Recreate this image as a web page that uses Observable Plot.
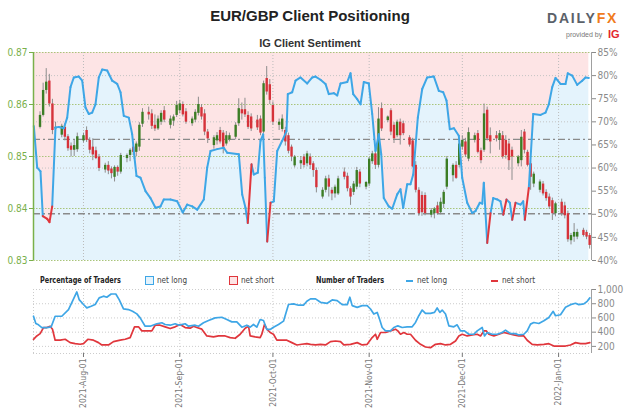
<!DOCTYPE html>
<html><head><meta charset="utf-8">
<script src="https://cdn.jsdelivr.net/npm/d3@7"></script>
<script src="https://cdn.jsdelivr.net/npm/@observablehq/plot@0.6"></script>
<style>
body{margin:0;background:#fff;}
#wrap{position:relative;width:624px;height:412px;overflow:hidden;font-family:"Liberation Sans",Arial,sans-serif;}
.abs{position:absolute;white-space:nowrap;}
#title{left:0;width:620px;top:7px;text-align:center;font-weight:bold;font-size:15px;color:#222;}
#subtitle{left:0;width:620px;top:37px;text-align:center;font-weight:bold;font-size:11px;color:#333;}
.narrow{font-family:"Liberation Sans Narrow","DejaVu Sans Condensed","Roboto Condensed",Roboto,sans-serif;}
.leg{top:275px;font-size:9px;color:#444;transform-origin:left center;transform:scaleX(0.9);}
.legb{font-weight:bold;color:#222;transform:scaleX(0.8);}
.box{position:absolute;top:276px;width:7px;height:7px;border:1.5px solid;}
.dash{position:absolute;top:280px;width:7px;height:2px;}
</style></head><body><div id="wrap">
<div class="abs" id="title">EUR/GBP Client Positioning</div>
<div class="abs" style="left:547px;top:10px;font-weight:bold;font-size:14px;letter-spacing:1.8px;color:#5b6169;">DAILY<span style="color:#f07b1c">FX</span></div>
<div class="abs" style="left:566px;top:31px;font-size:7px;color:#777;">provided by</div>
<div class="abs" style="left:608px;top:28px;font-size:11px;font-weight:bold;color:#e3262d;">IG</div>
<div class="abs" id="subtitle">IG Client Sentiment</div>
<div id="main" class="abs" style="left:0;top:0;"></div>
<div id="bottom" class="abs" style="left:0;top:280px;"></div>
<div class="abs leg legb narrow" style="left:40px;">Percentage of Traders</div>
<div class="box" style="left:145px;border-color:#3ea6e6;background:#e4f3fc;"></div>
<div class="abs leg narrow" style="left:157px;">net long</div>
<div class="box" style="left:229px;border-color:#e0363c;background:#fde4e5;"></div>
<div class="abs leg narrow" style="left:241px;">net short</div>
<div class="abs leg legb narrow" style="left:316px;">Number of Traders</div>
<div class="dash" style="left:406px;background:#3ea6e6;"></div>
<div class="abs leg narrow" style="left:417px;">net long</div>
<div class="dash" style="left:491px;background:#e0363c;"></div>
<div class="abs leg narrow" style="left:502px;">net short</div>
</div>
<script>
// ---------- DATA ----------
// Daily EUR/GBP candles, Sun-Fri, 2021-07-18 .. 2022-01-11
const candleOpen = [
.8556,.8579,.8627,.8645,.8601,.8553, .8541,.8556,.8538,.8520,.8512,.8513,
.8530,.8550,.8531,.8518,.8511,.8499, .8474,.8483,.8476,.8460,.8479,.8470,
.8496,.8502,.8518,.8508,.8518,.8562, .8585,.8582,.8560,.8553,.8566,.8588,
.8560,.8568,.8579,.8588,.8600,.8586, .8563,.8570,.8583,.8594,.8582,.8547,
.8521,.8530,.8550,.8545,.8524,.8532, .8537,.8563,.8590,.8590,.8579,.8576,
.8570,.8572,.8547,.8650,.8638,.8598, .8560,.8552,.8550,.8540,.8518,.8482,
.8486,.8499,.8486,.8499,.8486,.8473, .8422,.8435,.8457,.8435,.8428,.8428,
.8470,.8462,.8438,.8431,.8441,.8470, .8441,.8447,.8490,.8505,.8483,.8592,
.8569,.8588,.8560,.8540,.8566,.8563, .8536,.8530,.8483,.8435,.8425,.8425,
.8387,.8390,.8405,.8392,.8408,.8441, .8463,.8483,.8483,.8518,.8528,.8495,
.8531,.8544,.8511,.8512,.8589,.8540, .8540,.8531,.8540,.8531,.8524,.8512,
.8486,.8492,.8547,.8508,.8486,.8447, .8435,.8447,.8431,.8422,.8415,.8390,
.8412,.8405,.8390,.8338,.8345,.8345, .8358,.8354,.8348];
const candleHigh = [
.8586,.8641,.8669,.8658,.8610,.8566, .8562,.8563,.8542,.8526,.8532,.8545,
.8545,.8557,.8536,.8534,.8518,.8504, .8487,.8490,.8480,.8482,.8482,.8506,
.8505,.8515,.8522,.8528,.8565,.8592, .8595,.8590,.8580,.8578,.8588,.8596,
.8578,.8580,.8606,.8608,.8605,.8592, .8576,.8590,.8614,.8600,.8590,.8552,
.8540,.8546,.8556,.8550,.8548,.8545, .8565,.8611,.8603,.8612,.8586,.8582,
.8579,.8578,.8645,.8673,.8648,.8605, .8572,.8580,.8556,.8545,.8522,.8502,
.8500,.8504,.8510,.8505,.8490,.8478, .8440,.8462,.8464,.8440,.8445,.8462,
.8478,.8468,.8442,.8452,.8479,.8475, .8452,.8498,.8510,.8510,.8594,.8603,
.8578,.8592,.8565,.8570,.8572,.8568, .8540,.8535,.8490,.8440,.8432,.8430,
.8400,.8402,.8412,.8420,.8435,.8500, .8486,.8490,.8530,.8540,.8535,.8555,
.8545,.8550,.8516,.8601,.8595,.8555, .8548,.8550,.8548,.8540,.8530,.8518,
.8502,.8550,.8552,.8512,.8490,.8470, .8455,.8452,.8436,.8428,.8420,.8412,
.8418,.8412,.8395,.8352,.8371,.8360, .8362,.8358,.8352];
const candleLow = [
.8553,.8576,.8620,.8595,.8542,.8548, .8536,.8530,.8510,.8499,.8500,.8508,
.8526,.8527,.8505,.8492,.8494,.8471, .8468,.8465,.8457,.8451,.8462,.8466,
.8488,.8490,.8502,.8500,.8510,.8556, .8570,.8552,.8548,.8550,.8560,.8565,
.8553,.8558,.8575,.8582,.8576,.8562, .8558,.8565,.8578,.8570,.8540,.8525,
.8514,.8522,.8524,.8505,.8520,.8528, .8532,.8558,.8570,.8575,.8552,.8548,
.8550,.8540,.8544,.8618,.8600,.8560, .8550,.8547,.8520,.8505,.8490,.8478,
.8475,.8478,.8480,.8475,.8460,.8430, .8418,.8430,.8422,.8415,.8420,.8425,
.8455,.8432,.8406,.8425,.8436,.8440, .8436,.8442,.8485,.8475,.8478,.8548,
.8565,.8540,.8525,.8536,.8522,.8540, .8518,.8478,.8430,.8385,.8385,.8386,
.8382,.8380,.8387,.8388,.8400,.8436, .8451,.8456,.8478,.8512,.8498,.8490,
.8526,.8505,.8486,.8508,.8530,.8505, .8528,.8512,.8495,.8495,.8473,.8454,
.8480,.8480,.8505,.8480,.8435,.8440, .8430,.8424,.8414,.8398,.8377,.8384,
.8385,.8380,.8335,.8330,.8335,.8340, .8345,.8340,.8322];
const candleClose = [
.8579,.8627,.8643,.8601,.8550,.8556, .8558,.8537,.8515,.8512,.8521,.8538,
.8540,.8531,.8512,.8503,.8496,.8477, .8483,.8472,.8467,.8479,.8470,.8502,
.8502,.8512,.8508,.8524,.8560,.8585, .8580,.8558,.8553,.8572,.8583,.8570,
.8572,.8576,.8598,.8601,.8580,.8566, .8572,.8585,.8600,.8576,.8547,.8534,
.8536,.8540,.8528,.8518,.8540,.8540, .8560,.8592,.8582,.8580,.8556,.8553,
.8555,.8545,.8640,.8624,.8608,.8566, .8566,.8572,.8528,.8510,.8499,.8499,
.8492,.8483,.8505,.8483,.8473,.8440, .8435,.8457,.8441,.8428,.8441,.8457,
.8460,.8438,.8422,.8447,.8473,.8447, .8450,.8495,.8505,.8483,.8572,.8553,
.8576,.8547,.8534,.8566,.8540,.8544, .8522,.8480,.8435,.8390,.8392,.8390,
.8396,.8399,.8390,.8412,.8431,.8495, .8483,.8458,.8524,.8531,.8503,.8546,
.8540,.8508,.8492,.8582,.8534,.8528, .8534,.8544,.8499,.8502,.8492,.8499,
.8499,.8537,.8512,.8483,.8460,.8466, .8451,.8428,.8419,.8403,.8390,.8409,
.8390,.8386,.8340,.8348,.8354,.8354, .8348,.8345,.8329];

// IG client sentiment: [days since 2021-08-01, % of traders net long]
const sentiment = [
[-16.0,69.1],[-14.91,60.1],[-13.85,59.3],[-13.11,49.6],[-11.69,49.0],[-10.95,48.3],[-10.08,51.7],
[-9.02,68.8],[-7.95,68.9],[-6.34,68.6],[-5.25,70.9],[-4.19,77.5],[-3.12,79.6],[-1.51,79.8],[-0.42,78.9],
[0.64,73.1],[1.71,71.7],[2.80,72.0],[3.86,73.8],[4.93,79.6],[6.02,81.3],[7.63,81.1],[9.24,78.9],
[10.85,78.2],[11.92,76.4],[12.98,71.3],[14.59,70.9],[15.68,67.3],[16.43,62.2],[17.07,58.3],[18.36,57.9],
[19.97,55.0],[21.58,53.5],[23.19,51.4],[24.80,51.7],[25.86,53.2],[28.02,53.2],[30.18,52.8],[31.98,50.4],
[33.40,52.1],[35.01,51.7],[36.62,51.0],[38.74,53.2],[39.84,60.1],[40.90,63.7],[43.06,64.1],[45.19,64.4],
[46.28,63.3],[50.02,63.0],[51.11,54.3],[52.17,51.4],[52.91,48.1],[54.11,60.8],[54.85,58.6],[56.14,59.0],
[57.00,65.9],[57.87,67.3],[58.39,57.9],[59.16,44.1],[60.23,52.5],[61.29,52.8],[62.38,63.7],[63.99,65.9],
[65.38,68.0],[65.80,76.0],[67.21,76.4],[68.28,78.9],[69.89,79.6],[72.05,78.3],[73.66,79.6],[74.72,79.8],
[76.33,79.1],[77.94,78.2],[79.00,76.0],[80.61,76.2],[81.71,75.7],[82.77,78.3],[84.93,78.6],[85.99,80.5],
[86.86,76.0],[88.15,74.9],[89.21,73.8],[90.27,78.6],[91.88,78.3],[92.98,71.7],[94.04,63.7],[95.10,67.3],
[95.88,63.0],[96.71,53.5],[98.32,51.7],[99.42,51.2],[101.03,54.3],[102.09,55.4],[102.96,51.4],[104.25,56.5],
[105.31,56.5],[106.18,58.6],[107.67,70.9],[109.08,77.1],[110.69,79.6],[112.82,79.8],[114.43,76.7],[115.85,76.4],
[116.91,74.6],[117.97,68.4],[119.30,68.6],[120.87,67.0],[121.96,57.9],[123.57,52.5],[125.18,50.3],[126.25,50.7],
[127.63,52.5],[128.41,52.3],[128.92,56.8],[130.02,43.8],[131.08,50.2],[131.95,53.5],[133.24,53.2],[134.30,52.8],
[135.17,49.9],[136.23,53.2],[137.29,52.5],[138.07,48.8],[139.13,52.5],[140.74,52.1],[141.61,52.8],[142.13,48.8],
[143.41,55.7],[144.83,71.7],[147.18,71.5],[148.79,72.0],[149.86,73.8],[150.95,77.5],[152.01,79.5],[153.62,78.2],
[155.23,78.2],[155.97,80.5],[157.39,80.0],[159.00,78.0],[160.61,78.9],[161.67,79.6],[162.74,79.5]];

// Number of traders: [days since 2021-08-01, count]
const netLongTraders = [
[-16.1,624],[-15.35,522],[-14.49,503],[-13.42,465],[-11.81,465],[-10.41,475],[-9.13,624],[-6.98,624],
[-4.83,718],[-3.54,835],[-2.15,966],[-1.40,858],[0,789],[1.07,742],[2.47,765],[3.76,789],[5.05,882],
[6.44,906],[7.51,891],[8.91,937],[10.41,937],[11.49,858],[12.88,728],[14.49,718],[15.78,694],[17.18,657],
[18.25,601],[19.86,484],[21.47,484],[23.62,518],[25.23,532],[26.30,508],[27.91,498],[29.52,518],[30.81,498],
[32.74,518],[33.82,484],[35.96,498],[37.04,484],[38.65,532],[40.26,564],[42.40,601],[44.55,610],[46.16,578],
[47.77,545],[49.38,545],[50.99,470],[52.60,498],[53.68,470],[54.75,508],[55.82,470],[56.90,578],[57.97,564],
[59.05,438],[60.12,438],[61.19,470],[62.80,508],[64.41,555],[66.02,789],[67.63,798],[69.24,779],[70.85,779],
[71.93,835],[73.11,868],[74.72,868],[76.33,820],[78.48,806],[80.09,853],[81.70,844],[83.31,787],[84.92,787],
[85.78,891],[86.53,773],[88.14,749],[89.75,773],[91.36,773],[92.43,726],[93.50,655],[94.58,678],[95.33,584],
[96.19,466],[97.26,418],[98.87,418],[99.95,466],[101.23,489],[102.63,466],[104.24,475],[105.85,475],[106.92,536],
[107.99,631],[109.07,711],[110.14,664],[111.75,664],[113.04,678],[113.90,740],[114.76,678],[115.51,711],
[116.59,655],[117.66,489],[119.27,475],[120.34,503],[121.42,418],[122.71,418],[124.10,371],[125.71,371],
[126.79,418],[128.40,466],[129.15,347],[130.01,395],[131.62,371],[133.23,371],[134.84,395],[135.91,428],
[137.52,380],[139.13,380],[140.20,361],[141.81,371],[142.89,418],[143.96,513],[145.03,536],[146.64,522],
[148.26,560],[149.87,607],[151.26,693],[152.01,631],[153.62,645],[155.23,749],[156.84,787],[158.45,806],
[159.52,787],[161.13,797],[162.21,834],[163.07,882]];
const netShortTraders = [
[-16.10,300],[-15.03,347],[-13.96,380],[-12.88,465],[-11.81,465],[-10.74,484],[-9.98,442],[-9.13,287],
[-7.51,287],[-5.90,300],[-4.29,253],[-2.68,239],[-1.07,230],[0,239],[1.40,300],[3.22,287],[4.83,253],
[5.90,220],[8.05,220],[9.66,267],[11.81,287],[13.42,300],[15.03,324],[16.43,475],[17.71,475],[18.79,418],
[20.93,418],[22.01,418],[23.08,498],[24.69,498],[26.30,475],[27.91,451],[29.52,475],[31.13,508],[32.74,465],
[34.35,456],[35.43,484],[36.50,465],[38.11,442],[39.72,347],[41.87,333],[43.48,347],[45.63,347],[47.24,324],
[48.85,314],[50.46,371],[52.07,456],[53.14,484],[53.68,347],[55.29,333],[56.90,324],[57.43,371],[58.29,508],
[59.05,442],[60.12,395],[61.19,371],[62.27,287],[63.88,287],[65.49,287],[67.10,253],[68.71,220],[70.32,230],
[71.93,239],[73.11,229],[74.72,220],[76.33,229],[77.94,220],[79.55,267],[81.16,276],[82.77,267],[83.85,220],
[85.99,229],[88.14,253],[89.75,220],[91.36,229],[92.97,324],[94.04,371],[94.58,300],[95.65,395],[97.26,395],
[98.87,418],[100.48,442],[101.23,418],[102.09,371],[103.17,395],[104.24,371],[105.31,371],[106.92,286],
[108.54,229],[110.14,191],[111.75,182],[113.36,229],[114.97,238],[116.59,220],[118.20,229],[119.81,276],
[120.88,347],[121.96,371],[123.57,347],[125.18,361],[126.79,371],[127.86,347],[128.94,418],[129.69,418],
[130.55,371],[132.16,347],[133.77,371],[135.38,395],[136.99,380],[138.60,361],[140.20,347],[141.81,347],
[142.89,286],[144.50,229],[146.11,220],[148.26,229],[149.87,238],[151.48,205],[153.62,205],[155.23,205],
[156.84,220],[158.45,253],[160.06,238],[161.67,238],[163.07,253]];

const priceTicks = [0.83, 0.84, 0.85, 0.86, 0.87];
const pctTicks = [40, 45, 50, 55, 60, 65, 70, 75, 80, 85];
const pctGrid = [60, 70, 80];
const dashLevels = [0.8533, 0.8390];
const traderTicks = [200, 400, 600, 800, 1000];

// ---------- HELPERS ----------
const DAY = 864e5, AUG1 = Date.UTC(2021, 7, 1);
const dayToDate = d => new Date(AUG1 + d * DAY);
const pctToPrice = p => 0.83 + (p - 40) / 45 * 0.04;
const priceToPct = v => Math.round((v - 0.83) / 0.04 * 45 + 40);
const xDomain = [dayToDate(-16.1), dayToDate(163.6)];
const monthTicks = d3.utcMonth.range(d3.utcMonth.ceil(xDomain[0]), xDomain[1]);

const tradingDays = d3.utcDay.range(new Date(Date.UTC(2021, 6, 18)), new Date(Date.UTC(2022, 0, 12)))
  .filter(d => d.getUTCDay() !== 6);
const candles = tradingDays.map((date, i) => ({date, open: candleOpen[i], high: candleHigh[i], low: candleLow[i], close: candleClose[i]}))
  .filter(d => d.open !== undefined);
const up = candles.filter(d => d.close >= d.open), down = candles.filter(d => d.close < d.open);

const sent = sentiment.map(([d, p]) => ({date: dayToDate(d), pct: p, y: pctToPrice(p)}));
const segs = sent.slice(0, -1).map((s, i) => ({x1: s.date, y1: s.y, x2: sent[i+1].date, y2: sent[i+1].y, short: s.pct < 50}));
const longT = netLongTraders.map(([d, v]) => ({date: dayToDate(d), v}));
const shortT = netShortTraders.map(([d, v]) => ({date: dayToDate(d), v}));

const BLUE = "#3ea6e6", RED = "#e0363c", GREEN_AX = "#79b04a", CG = "#3c7d25", CR = "#d6323a";
const FONT = '"Liberation Sans Narrow","DejaVu Sans Condensed","Roboto Condensed",Roboto,sans-serif';

const main = Plot.plot({
  width: 624, height: 268, marginTop: 52, marginBottom: 8, marginLeft: 33, marginRight: 33,
  style: {fontFamily: FONT, fontSize: "10px", background: "transparent"},
  x: {type: "utc", domain: xDomain, axis: null},
  y: {domain: [0.83, 0.87]},
  marks: [
    Plot.areaY(sent, {x: "date", y1: "y", y2: 0.87, fill: "#fde4e5"}),
    Plot.areaY(sent, {x: "date", y1: 0.83, y2: "y", fill: "#e4f3fc"}),
    Plot.ruleX(monthTicks, {stroke: "#bbbbbb", strokeDasharray: "1,2"}),
    Plot.ruleY(pctGrid.map(pctToPrice), {stroke: "#c4c4c4", strokeDasharray: "1,2"}),
    Plot.ruleY(priceTicks, {stroke: "#a9c47a", strokeDasharray: "1.5,1.5"}),
    Plot.ruleY(dashLevels, {stroke: "#8a8a8a", strokeWidth: 1.4, strokeDasharray: "7,3,2,3"}),
    Plot.ruleX(candles, {x: "date", y1: "low", y2: "high", stroke: "#8d8d8d", strokeWidth: 1}),
    Plot.ruleX(up, {x: "date", y1: "open", y2: "close", stroke: CG, strokeWidth: 2.4}),
    Plot.ruleX(down, {x: "date", y1: "open", y2: "close", stroke: CR, strokeWidth: 2.4}),
    Plot.link(segs.filter(d => !d.short), {x1: "x1", y1: "y1", x2: "x2", y2: "y2", stroke: BLUE, strokeWidth: 2, strokeLinecap: "round"}),
    Plot.link(segs.filter(d => d.short), {x1: "x1", y1: "y1", x2: "x2", y2: "y2", stroke: RED, strokeWidth: 2, strokeLinecap: "round"}),
    Plot.ruleX([xDomain[0]], {stroke: GREEN_AX, strokeWidth: 1.5}),
    Plot.ruleX([xDomain[1]], {stroke: "#a0a0a0", strokeWidth: 1}),
    Plot.axisY({anchor: "left", ticks: priceTicks, tickFormat: d3.format(".2f"), color: GREEN_AX, tickSize: 4, tickPadding: 2, label: null}),
    Plot.axisY({anchor: "right", ticks: pctTicks.map(pctToPrice), tickFormat: v => priceToPct(v) + "%", color: "#8a8a8a", tickSize: 4, tickPadding: 2, label: null})
  ]
});
document.getElementById("main").appendChild(main);

const bottom = Plot.plot({
  width: 624, height: 132, marginTop: 9, marginBottom: 59, marginLeft: 33, marginRight: 33,
  style: {fontFamily: FONT, fontSize: "10px", background: "transparent"},
  x: {type: "utc", domain: xDomain},
  y: {domain: [100, 1000]},
  marks: [
    Plot.ruleY([100, ...traderTicks], {stroke: "#cccccc", strokeDasharray: "1,2"}),
    Plot.ruleX([xDomain[0], ...monthTicks], {stroke: "#cccccc", strokeDasharray: "1,2"}),
    Plot.line(shortT, {x: "date", y: "v", stroke: RED, strokeWidth: 1.7}),
    Plot.line(longT, {x: "date", y: "v", stroke: BLUE, strokeWidth: 1.7}),
    Plot.ruleX([xDomain[1]], {stroke: "#a0a0a0", strokeWidth: 1}),
    Plot.axisY({anchor: "right", ticks: traderTicks, color: "#8a8a8a", tickSize: 4, tickPadding: 2, label: null}),
    Plot.axisX({ticks: monthTicks, tickFormat: d3.utcFormat("%Y-%b-%d"), tickRotate: -90, color: "#777", tickSize: 4, tickPadding: 1, fontSize: 8.5, label: null})
  ]
});
document.getElementById("bottom").appendChild(bottom);
</script>
</body></html>
